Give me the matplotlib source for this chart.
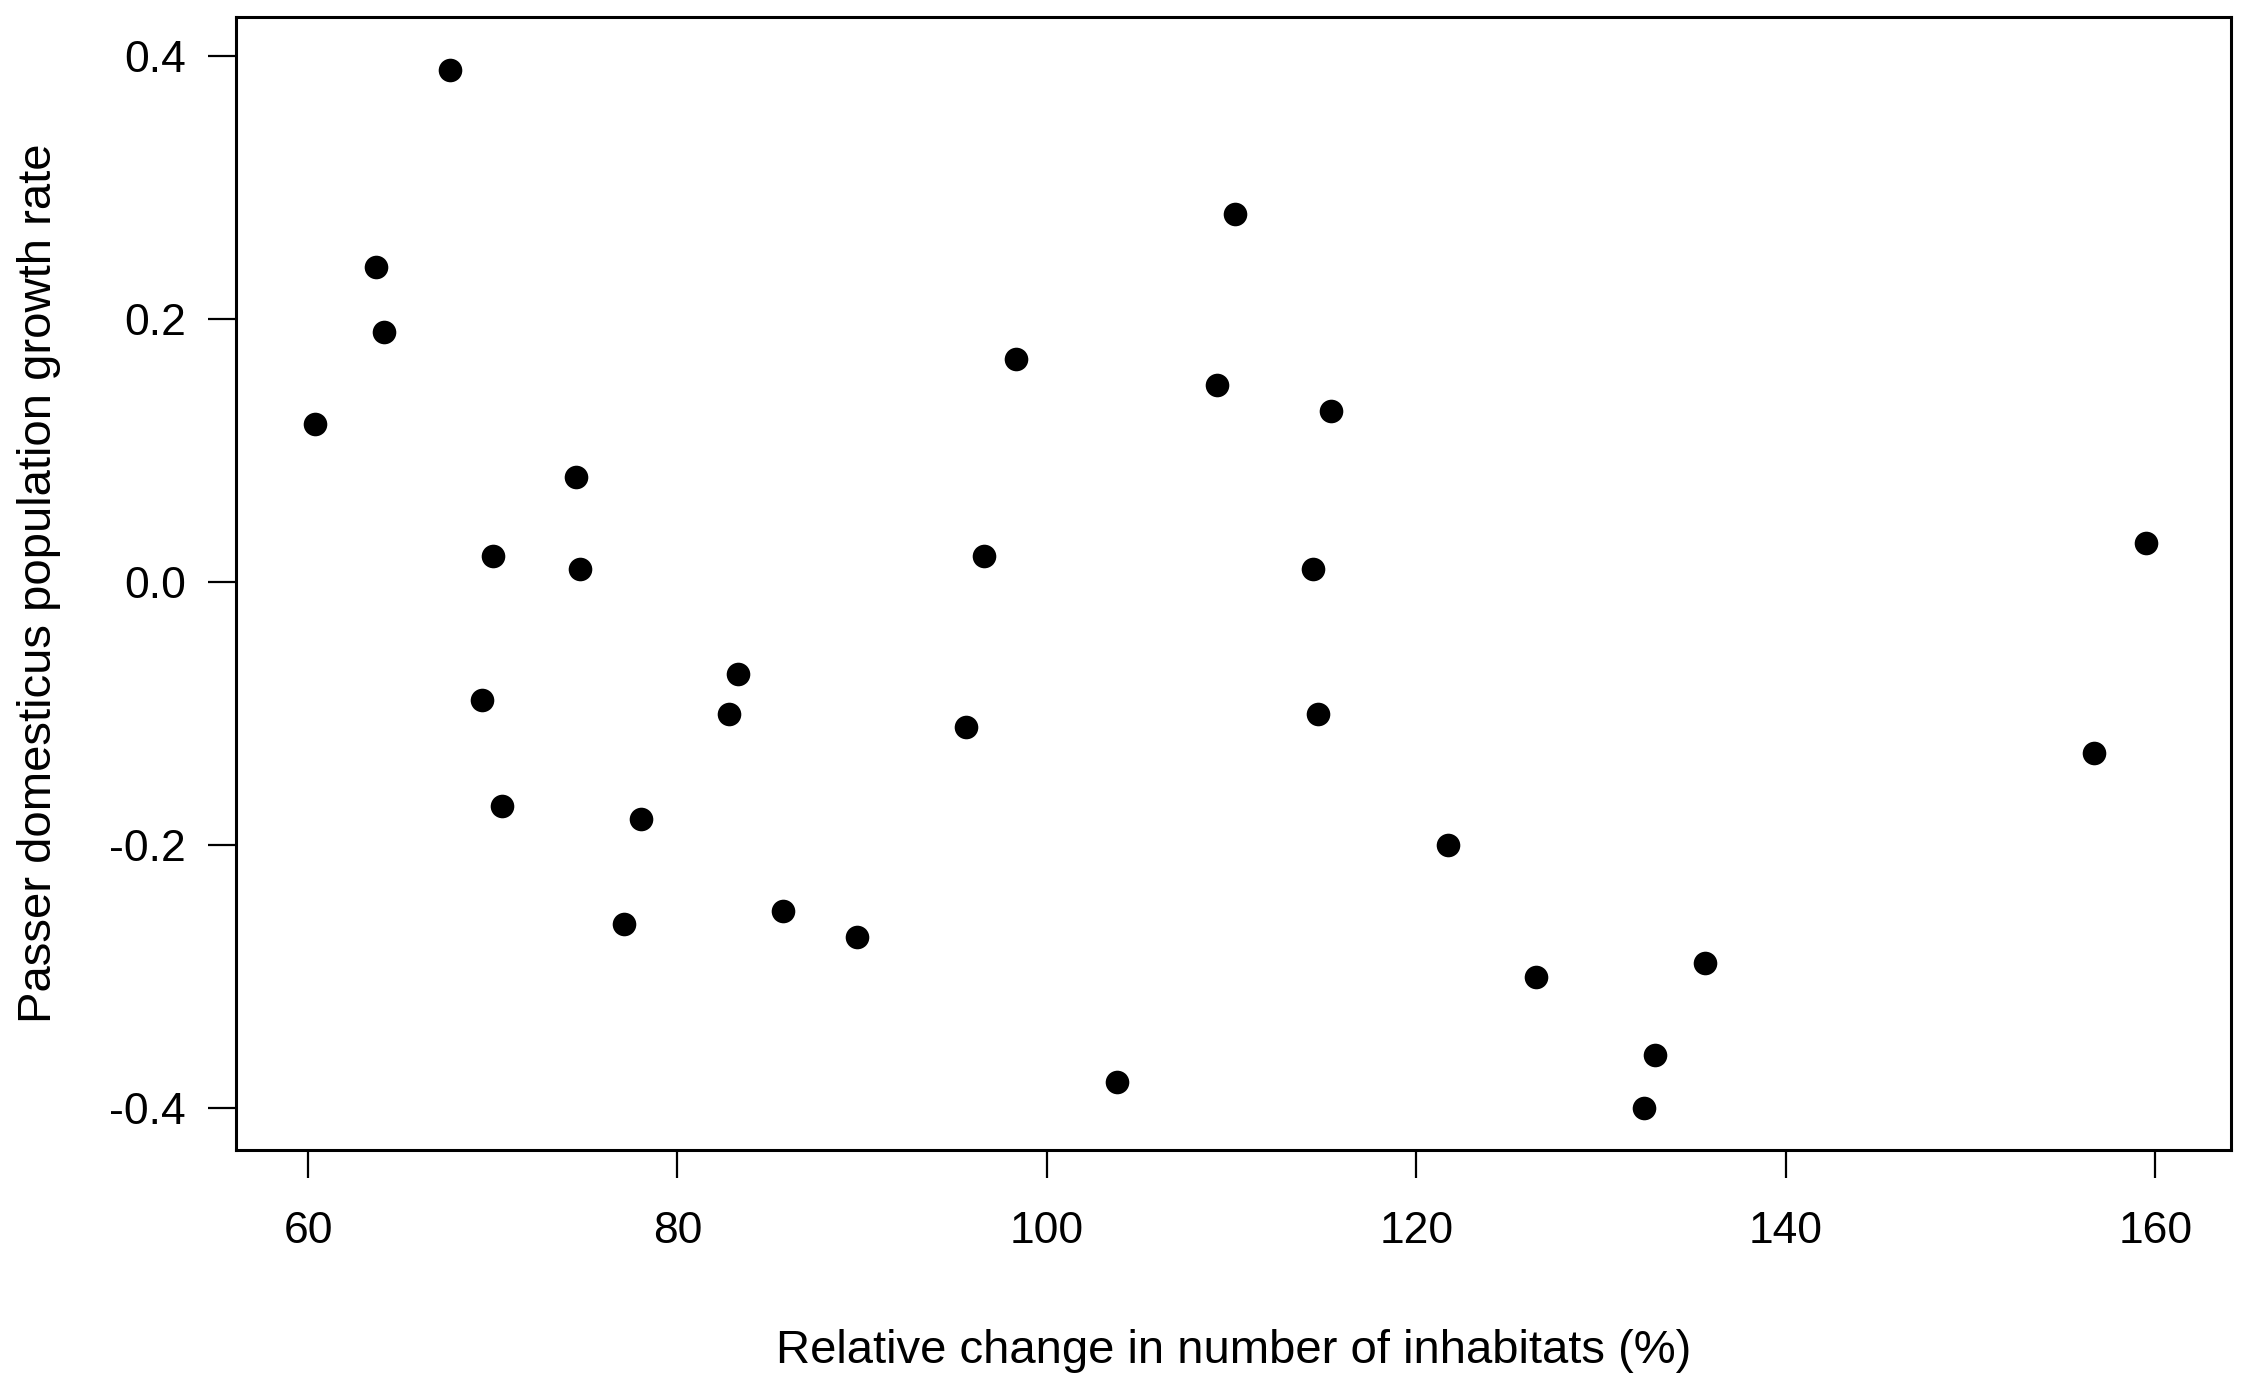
import matplotlib
matplotlib.use("Agg")
import matplotlib.pyplot as plt

# Relative change in number of inhabitants (%)
rel_change = [60.4, 63.7, 64.1, 67.7, 70.0, 69.4, 70.5, 74.5, 74.7, 77.1,
              78.0, 82.8, 83.3, 85.7, 89.7, 95.6, 96.6, 98.3, 103.8, 109.2,
              110.2, 114.4, 114.7, 115.4, 121.7, 126.5, 132.3, 132.9, 135.6,
              156.7, 159.5]
# Passer domesticus population growth rate
growth_rate = [0.12, 0.24, 0.19, 0.39, 0.02, -0.09, -0.17, 0.08, 0.01, -0.26,
               -0.18, -0.10, -0.07, -0.25, -0.27, -0.11, 0.02, 0.17, -0.38, 0.15,
               0.28, 0.01, -0.10, 0.13, -0.20, -0.30, -0.40, -0.36, -0.29,
               -0.13, 0.03]

x_ticks = [60, 80, 100, 120, 140, 160]
y_ticks = [-0.4, -0.2, 0.0, 0.2, 0.4]
y_ticklabels = ["-0.4", "-0.2", "0.0", "0.2", "0.4"]

plt.rcParams['font.family'] = ['Liberation Sans', 'DejaVu Sans']

fig = plt.figure(figsize=(22.53, 13.89), dpi=100)
ax = fig.add_axes([236/2253, 1 - 1150/1389, (2231-236)/2253, (1150-17)/1389])

ax.plot(rel_change, growth_rate, linestyle='none', marker='o',
        markersize=17, color='black', markeredgewidth=0)

ax.set_xlim(56.1, 164.1)
ax.set_ylim(-0.432, 0.430)
ax.set_xticks(x_ticks)
ax.set_xticklabels([str(v) for v in x_ticks])
ax.set_yticks(y_ticks)
ax.set_yticklabels(y_ticklabels)

for s in ax.spines.values():
    s.set_linewidth(2.2)
    s.set_color('black')

ax.tick_params(axis='both', direction='out', length=20, width=1.6,
               labelsize=32, colors='black')
ax.tick_params(axis='x', pad=24)
ax.tick_params(axis='y', pad=16)

ax.set_xlabel("Relative change in number of inhabitats (%)", fontsize=34)
ax.set_ylabel("Passer domesticus population growth rate", fontsize=34)
ax.xaxis.set_label_coords(0.5, (1150 - 1351) / 1133)
ax.xaxis.label.set_va('center')
ax.yaxis.set_label_coords((39 - 236) / 1995, 0.5)
ax.yaxis.label.set_va('center')
ax.yaxis.label.set_ha('center')

fig.savefig("out.png", dpi=100, facecolor='white')
